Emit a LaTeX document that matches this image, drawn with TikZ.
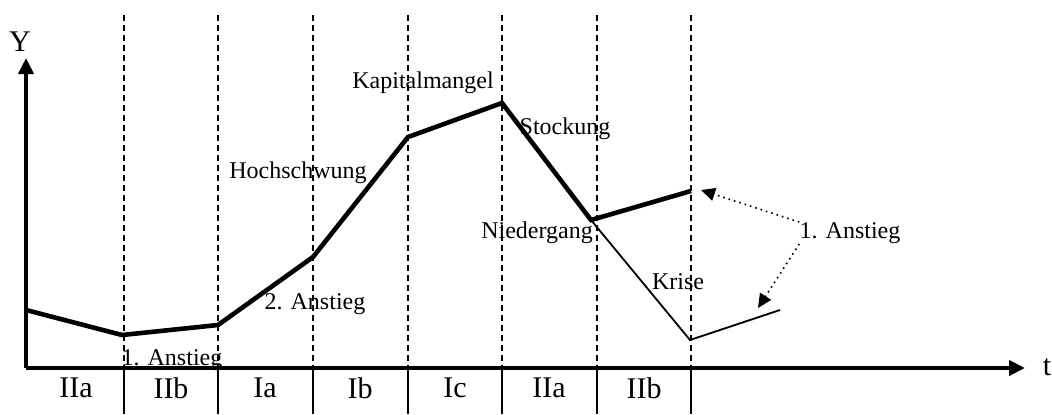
\documentclass[tikz,border=0pt]{standalone}
\usepackage{fontspec}
\setmainfont{Liberation Serif}
\usetikzlibrary{arrows.meta}

\begin{document}
\begin{tikzpicture}[
    x=0.5pt,
    y=-0.5pt,
    every node/.style={font=\fontsize{12}{14}\selectfont, inner sep=0pt},
    axislabel/.style={font=\fontsize{15}{17}\selectfont},
    axis/.style={draw=black, line width=2.2pt, -{Triangle[length=8pt, width=7.5pt]}},
    phaseline/.style={draw=black, line width=1.2pt, dash pattern=on 3pt off 2pt},
    phasetick/.style={draw=black, line width=1.1pt},
    curve/.style={draw=black, line width=2.3pt},
    thincurve/.style={draw=black, line width=0.9pt},
    pointer/.style={draw=black, line width=0.8pt, dotted, -{Triangle[length=7pt, width=6.5pt]}}
]
    \useasboundingbox (0,0) rectangle (1052,414);

    \coordinate (origin) at (26, 368);
    \coordinate (ytop) at (26, 58);
    \coordinate (tend) at (1025, 368);

    \coordinate (start) at (26, 310);
    \coordinate (low1) at (122, 335);
    \coordinate (rise1) at (218, 325);
    \coordinate (rise2) at (313, 257);
    \coordinate (boom) at (408, 137);
    \coordinate (peak) at (502, 103);
    \coordinate (fall) at (591, 220);
    \coordinate (rebound) at (691, 191);
    \coordinate (crisis) at (690, 340);
    \coordinate (recover) at (780, 310);

    % phase boundaries
    \foreach \x [count=\i] in {124, 218, 313, 408, 502, 597, 691}{
        \coordinate (top\i) at (\x, 15);
        \coordinate (axis\i) at (\x, 368);
        \coordinate (bot\i) at (\x, 414);
        \draw[phaseline] (top\i) -- (axis\i);
        \draw[phasetick] (axis\i) -- (bot\i);
    }

    \draw[axis] (origin) -- (ytop);
    \draw[axis] (origin) -- (tend);
    \node[axislabel] (ylab) at (20, 42) {Y};
    \node[axislabel] (tlab) at (1047, 367) {t};

    \foreach \x/\lbl [count=\i] in {
        76/IIa, 171/IIb, 265/Ia, 360/Ib, 455/Ic, 549/IIa, 644/IIb
    }{
        \node[axislabel] (phase\i) at (\x, 388) {\lbl};
    }

    \draw[curve] (start) -- (low1) -- (rise1) -- (rise2) -- (boom) -- (peak) -- (fall) -- (rebound);
    \draw[thincurve] (fall) -- (crisis) -- (recover);

    \node (kapital) at (423, 83) {Kapitalmangel};
    \node (stockung) at (565, 129) {Stockung};
    \node (hoch) at (298, 173) {Hochschwung};
    \node (nieder) at (537, 233) {Niedergang};
    \node (anstiegB) at (315, 304) {2. Anstieg};
    \node (anstiegA) at (172, 360) {1. Anstieg};
    \node (krise) at (678, 282) {Krise};
    \node (anstiegR) at (850, 233) {1. Anstieg};

    \coordinate (hit1) at (701, 190);
    \coordinate (hit2) at (758, 308);
    \draw[pointer] (anstiegR.north west) -- (hit1);
    \draw[pointer] (anstiegR.south west) -- (hit2);

\end{tikzpicture}
\end{document}
